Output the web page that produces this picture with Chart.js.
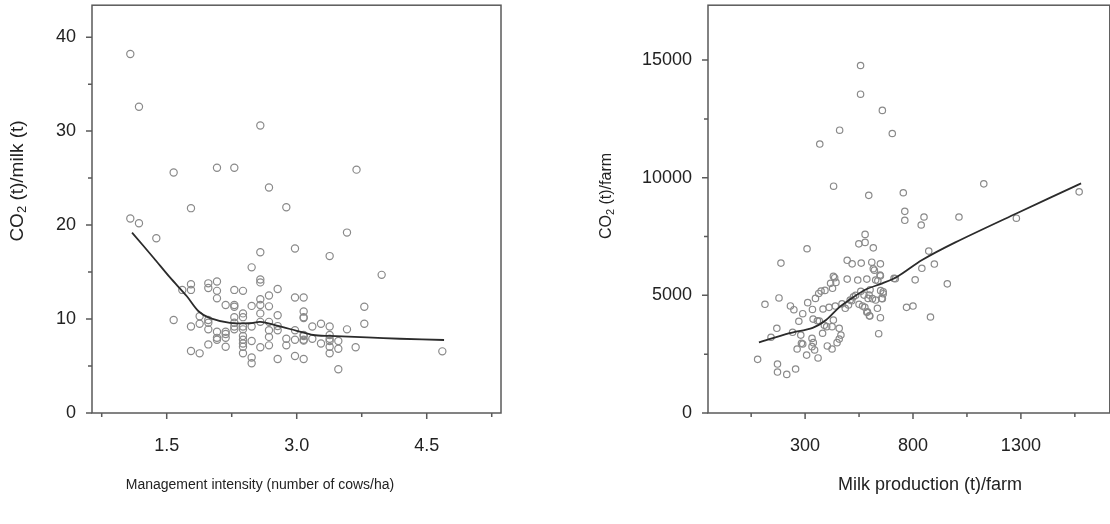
<!DOCTYPE html>
<html>
<head>
<meta charset="utf-8">
<script src="https://cdn.jsdelivr.net/npm/chart.js@4/dist/chart.umd.min.js"></script>
<style>
  html, body { margin: 0; padding: 0; background: #fff; overflow: hidden; width: 1110px; height: 524px; }
  canvas { position: absolute; top: 0; }
  #left { left: 0; }
  #right { left: 555px; }
</style>
</head>
<body>
<canvas id="left" width="555" height="524"></canvas>
<canvas id="right" width="560" height="524"></canvas>
<script>
// ---- left panel: management intensity vs CO2 per tonne of milk ----
const intensity = [1.08, 1.18, 2.58, 1.58, 2.08, 2.28, 2.68, 3.69, 1.08, 1.18, 1.78, 2.88, 1.38, 2.58, 2.98, 2.48, 2.58, 2.58, 1.68, 1.78,
  1.78, 1.98, 1.98, 2.08, 2.08, 2.08, 2.28, 2.38, 2.78, 2.68, 2.58, 2.98, 3.08, 2.18, 2.28, 2.28, 2.48, 2.58, 2.68, 3.08,
  3.08, 3.08, 2.78, 2.58, 2.38, 2.38, 2.28, 1.58, 1.88, 1.98, 1.98, 1.88, 1.78, 1.98, 2.08, 2.18, 2.18, 2.28, 2.28, 2.28,
  2.38, 2.38, 2.48, 2.58, 2.68, 2.68, 2.78, 2.78, 2.98, 3.08, 3.18, 2.08, 2.08, 2.18, 2.38, 2.38, 2.38, 2.38, 2.38, 2.48,
  2.68, 2.68, 2.58, 2.88, 2.88, 2.98, 3.08, 1.98, 2.18, 1.78, 1.88, 2.48, 2.48, 2.78, 2.98, 3.08, 3.58, 3.38, 3.98, 3.78,
  3.78, 3.28, 3.38, 3.58, 3.08, 3.18, 3.38, 3.38, 3.38, 3.38, 3.38, 3.28, 3.48, 3.48, 3.68, 3.48, 4.68, 3.08];
const co2PerMilk = [38.2, 32.6, 30.6, 25.6, 26.1, 26.1, 24.0, 25.9, 20.7, 20.2, 21.8, 21.9, 18.6, 17.1, 17.5, 15.5, 14.2, 13.9, 13.1, 13.7,
  13.1, 13.8, 13.3, 14.0, 13.0, 12.2, 13.1, 13.0, 13.2, 12.5, 12.1, 12.3, 12.3, 11.5, 11.5, 11.3, 11.4, 11.5, 11.35, 10.8,
  10.2, 10.1, 10.4, 10.6, 10.6, 10.2, 10.2, 9.9, 10.3, 9.9, 9.6, 9.5, 9.2, 8.9, 8.65, 8.65, 8.4, 9.6, 9.2, 8.9,
  9.2, 8.9, 9.2, 9.7, 9.7, 8.8, 9.25, 8.8, 8.8, 8.3, 9.2, 8.0, 7.8, 8.0, 8.2, 7.8, 7.4, 7.05, 6.35, 7.66,
  8.1, 7.2, 7.0, 7.9, 7.2, 7.8, 7.8, 7.3, 7.05, 6.6, 6.35, 5.9, 5.3, 5.74, 6.06, 5.74, 19.2, 16.7, 14.7, 11.3,
  9.5, 9.5, 9.2, 8.9, 8.2, 7.9, 8.3, 7.9, 7.66, 7.05, 6.35, 7.4, 7.66, 6.84, 7.0, 4.65, 6.56, 7.7];
const intensityFitX = [1.10, 1.35, 1.54, 1.73, 1.87, 2.00, 2.23, 2.46, 2.58, 2.77, 3.00, 3.19, 3.38, 3.81, 4.19, 4.70];
const intensityFitY = [19.2, 16.5, 14.4, 12.45, 10.8, 10.1, 9.6, 9.55, 9.7, 9.3, 8.75, 8.3, 8.2, 8.05, 7.9, 7.77];
const leftXTicks = [0.75, 1.5, 2.25, 3.0, 3.75, 4.5, 5.25];
const leftXLabels = ["", "1.5", "", "3.0", "", "4.5", ""];
const leftYTicks = [0, 5, 10, 15, 20, 25, 30, 35, 40];
const leftYLabels = ["0", "", "10", "", "20", "", "30", "", "40"];

// ---- right panel: milk production vs CO2 per farm ----
const milk = [557, 557, 658, 460, 704, 368, 432, 595, 755, 1128, 1570, 762, 762, 851, 838, 1013, 1279, 873, 899, 841,
  712, 810, 959, 770, 800, 881, 578, 549, 578, 616, 309, 188, 495, 518, 560, 609, 649, 616, 621, 431,
  437, 418, 443, 427, 495, 544, 586, 637, 649, 363, 392, 374, 348, 312, 179, 114, 232, 248, 334, 383,
  411, 440, 471, 486, 501, 516, 534, 558, 550, 566, 577, 597, 612, 662, 658, 635, 649, 598, 586, 641,
  289, 271, 337, 357, 366, 389, 400, 425, 431, 458, 466, 169, 142, 242, 280, 381, 283, 289, 338, 332,
  344, 263, 307, 360, 403, 425, 448, 80, 172, 172, 215, 256, 718, 650, 601, 662, 655, 627, 589, 600,
  509, 524, 573, 592, 332, 458, 627, 647];
const co2PerFarm = [14770, 13550, 12860, 12020, 11880, 11430, 9640, 9250, 9360, 9740, 9400, 8570, 8190, 8330, 7990, 8330, 8280, 6880, 6330, 6150,
  5720, 5660, 5490, 4490, 4545, 4080, 7590, 7190, 7250, 7020, 6980, 6370, 6490, 6340, 6370, 6410, 6340, 6130, 6070, 5810,
  5750, 5510, 5550, 5300, 5690, 5650, 5690, 5620, 5830, 5080, 5210, 5180, 4870, 4690, 4890, 4620, 4550, 4390, 4400, 4420,
  4490, 4545, 4640, 4450, 4590, 4770, 5000, 5170, 4620, 4545, 4490, 5010, 4860, 5070, 4860, 4450, 4050, 4130, 4280, 3370,
  4220, 3900, 3990, 3920, 3910, 3730, 3670, 3670, 3950, 3600, 3310, 3600, 3220, 3430, 3310, 3390, 2960, 2930, 2990, 2820,
  2680, 2720, 2460, 2340, 2850, 2720, 2990, 2280, 2080, 1740, 1640, 1870, 5710, 5200, 5240, 5150, 4870, 4800, 4300, 4120,
  4800, 4940, 5010, 4870, 3170, 3140, 5650, 5860];
const milkFitX = [86, 228, 335, 397, 458, 520, 581, 658, 727, 842, 996, 1279, 1579];
const milkFitY = [3000, 3390, 3620, 3950, 4490, 4900, 5250, 5510, 5790, 6500, 7250, 8480, 9760];
const rightXTicks = [50, 300, 550, 800, 1050, 1300, 1550];
const rightXLabels = ["", "300", "", "800", "", "1300", ""];
const rightYTicks = [0, 2500, 5000, 7500, 10000, 12500, 15000];
const rightYLabels = ["0", "", "5000", "", "10000", "", "15000"];

const FONT = "'Liberation Sans', Arial, sans-serif";
Chart.defaults.font.family = FONT;
Chart.defaults.color = "#222";

const zip = (xs, ys) => xs.map((x, i) => ({ x: x, y: ys[i] }));

// box around the plot, short outward ticks, and the axis titles (CO2 with subscript)
const frame = {
  id: "frame",
  afterDraw(chart, args, opts) {
    const { ctx, chartArea: a } = chart;
    const xs = chart.scales.x, ys = chart.scales.y;
    ctx.save();
    ctx.strokeStyle = "#5a5a5a";
    ctx.lineWidth = 1.5;
    ctx.strokeRect(a.left, a.top, a.right - a.left, a.bottom - a.top);
    ctx.beginPath();
    xs.ticks.forEach((t, i) => {
      const px = xs.getPixelForValue(t.value);
      const len = opts.xLabels[i] ? 6 : 4;
      ctx.moveTo(px, a.bottom);
      ctx.lineTo(px, a.bottom + len);
    });
    ys.ticks.forEach((t, i) => {
      const py = ys.getPixelForValue(t.value);
      const len = opts.yLabels[i] ? 6 : 4;
      ctx.moveTo(a.left, py);
      ctx.lineTo(a.left - len, py);
    });
    ctx.stroke();

    ctx.fillStyle = "#222";
    ctx.textBaseline = "middle";
    ctx.textAlign = "center";
    ctx.font = opts.xTitleSize + "px " + FONT;
    ctx.fillText(opts.xTitle, opts.xTitlePos[0], opts.xTitlePos[1]);

    // rotated y title: "CO" + subscript "2" + rest
    const big = opts.yTitleSize + "px " + FONT;
    const small = Math.round(opts.yTitleSize * 0.7) + "px " + FONT;
    ctx.font = big;
    const w1 = ctx.measureText("CO").width;
    const w3 = ctx.measureText(opts.yTitleRest).width;
    ctx.font = small;
    const w2 = ctx.measureText("2").width;
    const total = w1 + w2 + w3;
    ctx.translate(opts.yTitlePos[0], opts.yTitlePos[1]);
    ctx.rotate(-Math.PI / 2);
    ctx.textAlign = "left";
    let x = -total / 2;
    ctx.font = big;
    ctx.fillText("CO", x, 0);
    x += w1;
    ctx.font = small;
    ctx.fillText("2", x, opts.yTitleSize * 0.25);
    x += w2;
    ctx.font = big;
    ctx.fillText(opts.yTitleRest, x, 0);
    ctx.restore();
  }
};

function makeChart(id, cfg) {
  return new Chart(document.getElementById(id), {
    type: "scatter",
    data: {
      datasets: [
        {
          data: cfg.points,
          pointStyle: "circle",
          pointRadius: cfg.radius,
          borderColor: "#8a8a8a",
          backgroundColor: "rgba(0,0,0,0)",
          borderWidth: 1.2,
          order: 2
        },
        {
          type: "line",
          data: cfg.fit,
          showLine: true,
          pointRadius: 0,
          borderColor: "#2b2b2b",
          borderWidth: 1.8,
          tension: 0.3,
          fill: false,
          order: 1
        }
      ]
    },
    plugins: [frame],
    options: {
      responsive: false,
      animation: false,
      layout: { padding: { left: 0, top: 5, right: cfg.padRight, bottom: 0 } },
      plugins: {
        legend: { display: false },
        tooltip: { enabled: false },
        frame: {
          xLabels: cfg.xLabels,
          yLabels: cfg.yLabels,
          xTitle: cfg.xTitle,
          xTitleSize: cfg.xTitleSize,
          xTitlePos: cfg.xTitlePos,
          yTitleRest: cfg.yTitleRest,
          yTitleSize: cfg.yTitleSize,
          yTitlePos: cfg.yTitlePos
        }
      },
      scales: {
        x: {
          type: "linear",
          min: cfg.xMin,
          max: cfg.xMax,
          afterBuildTicks: (s) => { s.ticks = cfg.xTicks.map(v => ({ value: v })); },
          afterFit: (s) => { s.height = 111; s.paddingLeft = 0; s.paddingRight = 0; },
          grid: { display: false, drawTicks: false },
          border: { display: false },
          ticks: {
            autoSkip: false,
            maxRotation: 0,
            padding: 22,
            font: { size: 18 },
            color: "#222",
            callback: (v, i) => cfg.xLabels[i]
          }
        },
        y: {
          type: "linear",
          min: cfg.yMin,
          max: cfg.yMax,
          afterBuildTicks: (s) => { s.ticks = cfg.yTicks.map(v => ({ value: v })); },
          afterFit: (s) => { s.width = cfg.yWidth; s.paddingTop = 0; s.paddingBottom = 0; },
          grid: { display: false, drawTicks: false },
          border: { display: false },
          ticks: {
            autoSkip: false,
            padding: 16,
            font: { size: 18 },
            color: "#222",
            callback: (v, i) => cfg.yLabels[i]
          }
        }
      }
    }
  });
}

makeChart("left", {
  points: zip(intensity, co2PerMilk),
  fit: zip(intensityFitX, intensityFitY),
  radius: 3.6,
  padRight: 54,
  yWidth: 92,
  xMin: 0.638, xMax: 5.357,
  yMin: 0, yMax: 43.4,
  xTicks: leftXTicks, xLabels: leftXLabels,
  yTicks: leftYTicks, yLabels: leftYLabels,
  xTitle: "Management intensity (number of cows/ha)",
  xTitleSize: 14,
  xTitlePos: [260, 485],
  yTitleRest: " (t)/milk (t)",
  yTitleSize: 19,
  yTitlePos: [18, 181]
});

makeChart("right", {
  points: zip(milk, co2PerFarm),
  fit: zip(milkFitX, milkFitY),
  radius: 3.2,
  padRight: 3,
  yWidth: 153,
  xMin: -150, xMax: 1712,
  yMin: 0, yMax: 17332,
  xTicks: rightXTicks, xLabels: rightXLabels,
  yTicks: rightYTicks, yLabels: rightYLabels,
  xTitle: "Milk production (t)/farm",
  xTitleSize: 18,
  xTitlePos: [375, 485],
  yTitleRest: " (t)/farm",
  yTitleSize: 16,
  yTitlePos: [52, 196]
});
</script>
</body>
</html>
